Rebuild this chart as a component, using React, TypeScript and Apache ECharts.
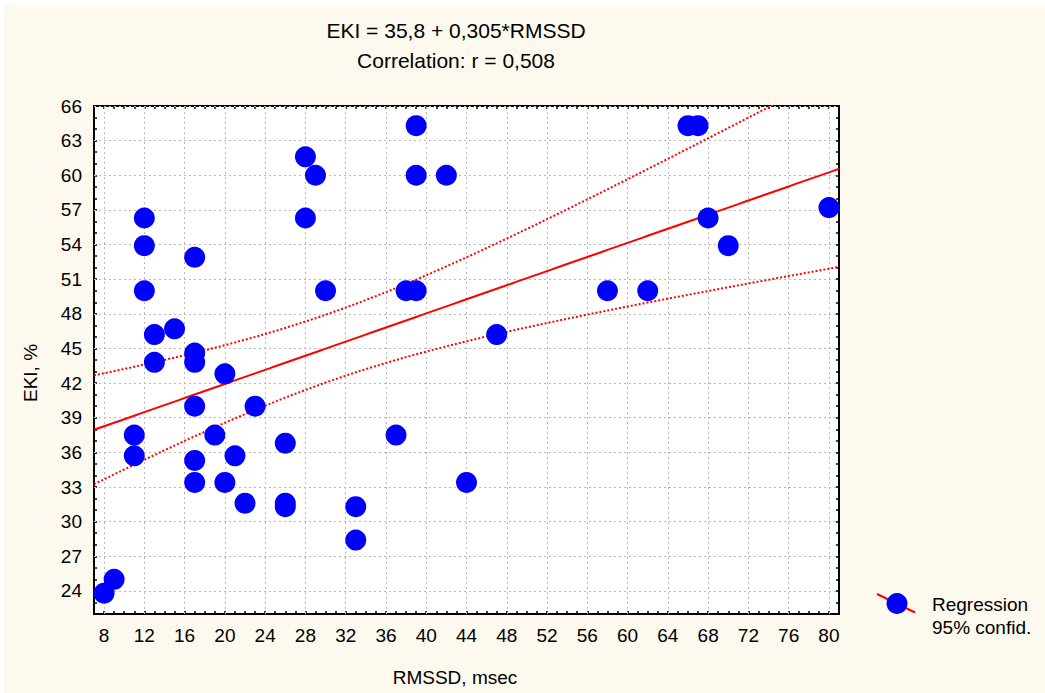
import React, { useEffect, useRef } from "react";
import * as echarts from "echarts";

const FONT = '"Liberation Sans", Arial, sans-serif';

// RMSSD (msec) and EKI (%) for each observation
const rmssd = [8, 9, 11, 11, 12, 12, 12, 13, 13, 15, 17, 17, 17, 17, 17, 17, 19, 20, 20, 21, 22, 23, 26, 26, 26, 28, 28, 29, 30, 33, 33, 37, 38, 39, 39, 39, 42, 44, 47, 58, 62, 66, 67, 68, 70, 80];
const eki = [23.8, 25.0, 37.5, 35.7, 56.3, 53.9, 50.0, 46.2, 43.8, 46.7, 52.9, 44.6, 43.8, 40.0, 35.3, 33.4, 37.5, 42.8, 33.4, 35.7, 31.6, 40.0, 36.8, 31.6, 31.3, 61.6, 56.3, 60.0, 50.0, 31.3, 28.4, 37.5, 50.0, 50.0, 64.3, 60.0, 60.0, 33.4, 46.2, 50.0, 50.0, 64.3, 64.3, 56.3, 53.9, 57.2];

const xTickLabels = [8, 12, 16, 20, 24, 28, 32, 36, 40, 44, 48, 52, 56, 60, 64, 68, 72, 76, 80];
const yTickLabels = [24, 27, 30, 33, 36, 39, 42, 45, 48, 51, 54, 57, 60, 63, 66];

const titleLines = ["EKI = 35,8 + 0,305*RMSSD", "Correlation: r = 0,508"];
const xName = "RMSSD, msec";
const yName = "EKI, %";
const legendLines = ["Regression", "95% confid."];

const X_MIN = 7, X_MAX = 81, Y_MIN = 22, Y_MAX = 66;
const T_975 = 2.0154;

function regression() {
  const n = rmssd.length;
  const mx = rmssd.reduce((a, b) => a + b, 0) / n;
  const my = eki.reduce((a, b) => a + b, 0) / n;
  let sxx = 0, sxy = 0;
  for (let i = 0; i < n; i++) {
    sxx += (rmssd[i] - mx) ** 2;
    sxy += (rmssd[i] - mx) * (eki[i] - my);
  }
  const b = sxy / sxx;
  const a = my - b * mx;
  let sse = 0;
  for (let i = 0; i < n; i++) sse += (eki[i] - a - b * rmssd[i]) ** 2;
  const s = Math.sqrt(sse / (n - 2));
  return { n, mx, sxx, a, b, s };
}

export default function App() {
  const ref = useRef<HTMLDivElement>(null);
  useEffect(() => {
    document.body.style.margin = "0";
    if (!ref.current) return;
    const chart = echarts.init(ref.current, null, { renderer: "svg" });
    const r = regression();
    const line: number[][] = [];
    const upper: number[][] = [];
    const lower: number[][] = [];
    for (let x = X_MIN; x <= X_MAX + 1e-9; x += 0.5) {
      const yh = r.a + r.b * x;
      const hw = T_975 * r.s * Math.sqrt(1 / r.n + (x - r.mx) ** 2 / r.sxx);
      line.push([x, yh]);
      upper.push([x, yh + hw]);
      lower.push([x, yh - hw]);
    }
    const frameAxis = {
      axisLine: { show: true, onZero: false, lineStyle: { color: "#000", width: 2 } },
      axisTick: { show: true, inside: true, length: 3, lineStyle: { color: "#000", width: 1.5 } },
      splitLine: { show: false },
    };
    const labelStyle = { color: "#000", fontSize: 19, fontFamily: FONT };
    chart.setOption({
      animation: false,
      backgroundColor: "#ffffff",
      grid: {
        left: 94, top: 106, width: 745, height: 508,
        show: true, backgroundColor: "#ffffff", borderWidth: 0,
      },
      xAxis: [
        {
          type: "value", min: X_MIN, max: X_MAX, interval: 1, position: "bottom",
          ...frameAxis,
          axisLabel: {
            ...labelStyle, margin: 12,
            formatter: (v: number) => (xTickLabels.includes(v) ? String(v) : ""),
          },
        },
        {
          type: "value", min: X_MIN, max: X_MAX, interval: 1, position: "top",
          ...frameAxis, axisLabel: { show: false },
        },
      ],
      yAxis: [
        {
          type: "value", min: Y_MIN, max: Y_MAX, interval: 1, position: "left",
          ...frameAxis,
          axisLabel: {
            ...labelStyle, margin: 12,
            formatter: (v: number) => (yTickLabels.includes(v) ? String(v) : ""),
          },
        },
        {
          type: "value", min: Y_MIN, max: Y_MAX, interval: 1, position: "right",
          ...frameAxis, axisLabel: { show: false },
        },
      ],
      graphic: [
        { type: "rect", z: -10, shape: { x: 4, y: 5, width: 1045, height: 693 }, style: { fill: "#FDF9EE" }, silent: true },
        { type: "rect", z: -9, shape: { x: 94, y: 106, width: 745, height: 508 }, style: { fill: "#ffffff" }, silent: true },
        { type: "text", x: 456, y: 30, style: { text: titleLines[0], fontSize: 21, fontFamily: FONT, fill: "#000", align: "center", verticalAlign: "middle" } },
        { type: "text", x: 456, y: 60, style: { text: titleLines[1], fontSize: 21, fontFamily: FONT, fill: "#000", align: "center", verticalAlign: "middle" } },
        { type: "text", x: 455, y: 677, style: { text: xName, fontSize: 19, fontFamily: FONT, fill: "#000", align: "center", verticalAlign: "middle" } },
        { type: "text", x: 30, y: 373, rotation: Math.PI / 2, style: { text: yName, fontSize: 19, fontFamily: FONT, fill: "#000", align: "center", verticalAlign: "middle" } },
        { type: "line", shape: { x1: 877, y1: 594, x2: 915, y2: 612.5 }, style: { stroke: "#ff0000", lineWidth: 2 } },
        { type: "circle", shape: { cx: 897, cy: 603.5, r: 10.5 }, style: { fill: "#0000ff" } },
        { type: "text", x: 932, y: 604, style: { text: legendLines[0], fontSize: 19, fontFamily: FONT, fill: "#000", align: "left", verticalAlign: "middle" } },
        { type: "text", x: 932, y: 627, style: { text: legendLines[1], fontSize: 19, fontFamily: FONT, fill: "#000", align: "left", verticalAlign: "middle" } },
      ],
      series: [
        {
          name: "grid", type: "line", data: [], z: 1, silent: true,
          markLine: {
            silent: true, z: 1, symbol: ["none", "none"], label: { show: false }, animation: false,
            lineStyle: { color: "#b8b8b8", type: [2, 3], width: 1 },
            emphasis: { disabled: true },
            data: [
              ...xTickLabels.map((v) => ({ xAxis: v })),
              ...yTickLabels.map((v) => ({ yAxis: v })),
            ],
          },
        },
        {
          name: "upper", type: "line", data: upper, showSymbol: false, symbol: "none", z: 2, clip: true,
          lineStyle: { color: "#ff0000", width: 2, type: [2, 2] },
        },
        {
          name: "lower", type: "line", data: lower, showSymbol: false, symbol: "none", z: 2, clip: true,
          lineStyle: { color: "#ff0000", width: 2, type: [2, 2] },
        },
        {
          name: "Regression", type: "line", data: line, showSymbol: false, symbol: "none", z: 3, clip: true,
          lineStyle: { color: "#ff0000", width: 2 },
        },
        {
          name: "points", type: "scatter", z: 6,
          data: rmssd.map((x, i) => [x, eki[i]]),
          symbol: "circle", symbolSize: 21,
          itemStyle: { color: "#0000ff", opacity: 1 },
        },
      ],
    });
    return () => chart.dispose();
  }, []);
  return <div ref={ref} style={{ width: 1045, height: 693 }} />;
}
